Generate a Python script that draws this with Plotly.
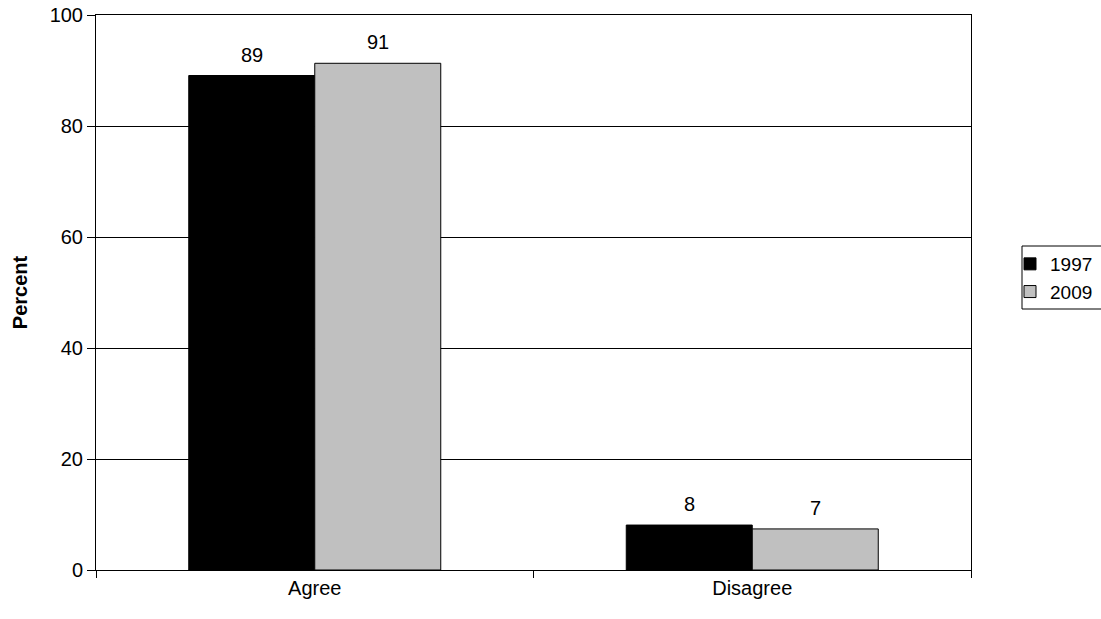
import plotly.graph_objects as go

categories = ["Agree", "Disagree"]
years = ["1997", "2009"]
values_1997 = [89.1, 8.1]
values_2009 = [91.3, 7.4]
colors = ["#000000", "#C0C0C0"]
y_ticks = [0, 20, 40, 60, 80, 100]

FONT = "Arial, Liberation Sans, sans-serif"
FS = 20

W, H = 1101, 619
PL, PR, PT, PB = 96, 971, 15, 570   # plot-area edges in page pixels
ML = PL
MT = PT
PW = PR - PL
PH = PB - PT
MR = W - ML - PW
MB = H - MT - PH

fig = go.Figure()
series = [values_1997, values_2009]
for name, vals, col in zip(years, series, colors):
    fig.add_trace(go.Bar(
        x=categories, y=vals, name=name,
        marker=dict(color=col, line=dict(color="#000000", width=1)),
    ))

# data labels above each bar
bar_px = PW / 2 * (1 - 0.424) / 2
for i, vals in enumerate(series):
    shift = (i - 0.5) * bar_px
    for c, v in zip(categories, vals):
        fig.add_annotation(
            x=c, y=v, text=f"{v:.0f}", showarrow=False,
            xref="x", yref="y", yanchor="bottom", xshift=shift, yshift=8,
            font=dict(family=FONT, size=FS, color="#000000"),
        )

def px_x(p):
    return (p - PL) / PW

def px_y(p):
    return (PB - p) / PH

# legend border box (its right side runs past the page edge, as in the reference)
fig.add_shape(type="rect", xref="paper", yref="paper",
              x0=px_x(1022), x1=px_x(1125), y0=px_y(309), y1=px_y(246),
              line=dict(color="#000000", width=1), fillcolor="rgba(0,0,0,0)")

fig.update_layout(
    width=W, height=H,
    margin=dict(l=ML, r=MR, t=MT, b=MB, autoexpand=False),
    paper_bgcolor="white", plot_bgcolor="white",
    barmode="group", bargap=0.424, bargroupgap=0,
    font=dict(family=FONT, size=FS, color="#000000"),
    legend=dict(
        x=px_x(1010), y=px_y(278), xanchor="left", yanchor="middle",
        bgcolor="rgba(0,0,0,0)", borderwidth=0,
        font=dict(family=FONT, size=19, color="#000000"),
        itemwidth=30,
    ),
    showlegend=True,
)
fig.update_xaxes(
    type="category", tickson="boundaries", ticks="outside", ticklen=7,
    tickcolor="#000000", showline=True, linecolor="#000000", linewidth=1,
    mirror=True, showgrid=False, automargin=False, ticklabeloverflow="allow",
    tickfont=dict(family=FONT, size=FS, color="#000000"),
)
fig.update_yaxes(
    range=[0, 100], tickvals=y_ticks, ticks="outside", ticklen=8,
    tickcolor="#000000", showline=True, linecolor="#000000", linewidth=1,
    mirror=True, showgrid=True, gridcolor="#000000", gridwidth=1,
    zeroline=False, automargin=False, ticklabeloverflow="allow",
    tickfont=dict(family=FONT, size=FS, color="#000000"),
    title=dict(text="<b>Percent</b>", font=dict(family=FONT, size=FS, color="#000000"), standoff=16),
)

# place the figure at the page's top-left corner (no default body margin)
fig.write_html("out.html", config={"displayModeBar": False},
               post_script="document.body.style.margin='0';")
